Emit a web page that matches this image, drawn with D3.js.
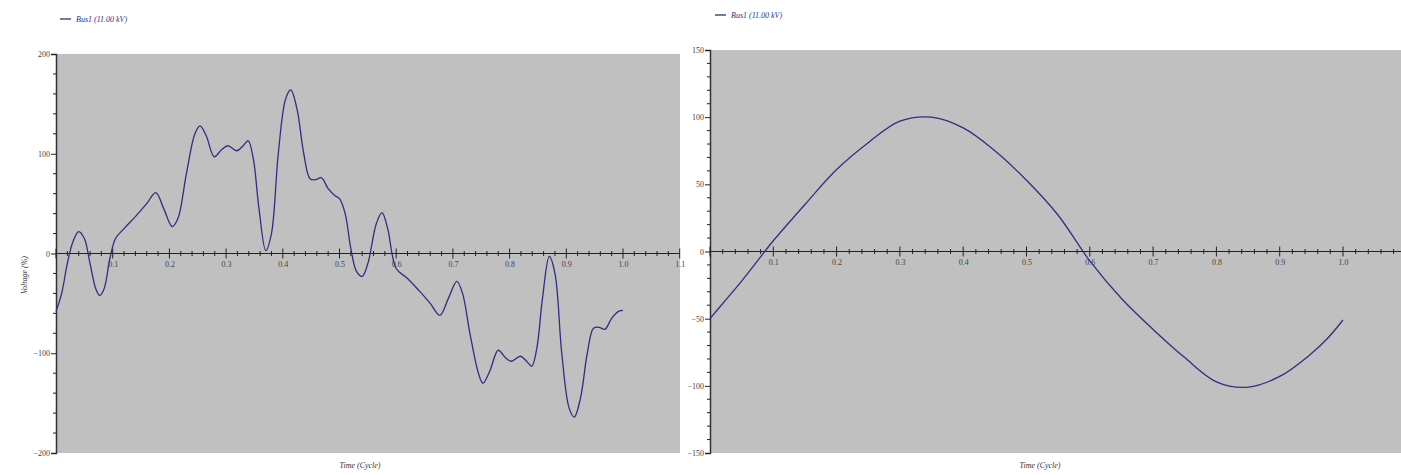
<!DOCTYPE html>
<html><head><meta charset="utf-8">
<script src="https://cdn.jsdelivr.net/npm/d3@7"></script>
<style>body{margin:0;background:#fff}svg{display:block}text{font-family:"Liberation Serif","DejaVu Serif",serif}</style>
</head><body>
<svg id="c" width="1401" height="475"></svg>
<script>
const legendLabel = "Bus1 (11.00 kV)";
const xTitle = "Time (Cycle)";
const yTitle = "Voltage (%)";
const leftYTicks = [200, 100, 0, -100, -200];
const rightYTicks = [150, 100, 50, 0, -50, -100, -150];
const leftXTicks = [0.1,0.2,0.3,0.4,0.5,0.6,0.7,0.8,0.9,1.0,1.1];
const rightXTicks = [0.1,0.2,0.3,0.4,0.5,0.6,0.7,0.8,0.9,1.0];
const leftT = [0,0.01,0.02,0.03,0.04,0.05,0.06,0.07,0.077,0.085,0.095,0.105,0.12,0.14,0.16,0.176,0.19,0.205,0.215,0.23,0.245,0.254,0.265,0.279,0.292,0.303,0.319,0.33,0.339,0.348,0.358,0.37,0.38,0.392,0.405,0.414,0.425,0.437,0.448,0.458,0.468,0.48,0.492,0.5,0.51,0.52,0.53,0.54,0.55,0.565,0.575,0.585,0.6,0.62,0.64,0.66,0.677,0.692,0.707,0.717,0.73,0.745,0.753,0.765,0.78,0.792,0.803,0.819,0.83,0.839,0.848,0.858,0.87,0.88,0.892,0.905,0.914,0.925,0.937,0.948,0.958,0.968,0.98,0.992,1.0];
const leftV = [-58,-40,-10,12,22,15,-10,-35,-42,-35,-5,15,25,37,50,61,45,27,35,80,120,128,118,97,104,108,103,108,113,95,45,3,20,100,155,164,145,100,75,74,76,65,58,55,40,5,-18,-23,-10,30,41,25,-15,-25,-37,-50,-62,-45,-28,-40,-80,-120,-130,-118,-97,-104,-108,-103,-108,-113,-95,-45,-3,-20,-100,-155,-164,-145,-100,-75,-74,-76,-65,-58,-57];
const rightT = [0,0.025,0.05,0.075,0.1,0.15,0.2,0.25,0.3,0.35,0.4,0.45,0.5,0.55,0.6,0.65,0.7,0.75,0.8,0.85,0.9,0.95,0.975,1.0];
const rightV = [-50,-36,-22,-7,8,35,61,81,97,100,92,75,53,27,-7,-35,-58,-79,-97,-101,-93,-76,-65,-51];

const svg = d3.select("#c");
const lineColor = "#2e2e84";

function panel(o){
  const g = svg.append("g");
  const x = d3.scaleLinear().domain([0,1.1]).range([o.x0, o.x0 + o.unit*11]);
  const y = d3.scaleLinear().domain(o.yDomain).range([o.y1, o.y0]);
  g.append("rect").attr("x", o.x0).attr("y", o.y0).attr("width", o.x1 - o.x0).attr("height", o.y1 - o.y0).attr("fill", "#c0c0c0");
  const yAxis = d3.axisLeft(y).tickValues(o.yTicks).tickSize(5).tickFormat(d3.format("d"));
  const ya = g.append("g").attr("transform", `translate(${o.x0},0)`).call(yAxis);
  const minorY = d3.range(o.yDomain[0], o.yDomain[1] + 0.001, o.yMinor).filter(v => !o.yTicks.includes(v));
  ya.selectAll(".minor").data(minorY).enter().append("line").attr("class","minor")
    .attr("x1",-3).attr("x2",0).attr("y1",d=>y(d)).attr("y2",d=>y(d)).attr("stroke","#222");
  ya.select(".domain").attr("stroke","#333").attr("stroke-width",1.5);
  ya.selectAll(".tick line").attr("stroke","#222");
  ya.selectAll(".tick text").attr("font-size", 8).attr("fill","#444").attr("x",-6);
  const xMax = o.xMax;
  const xAxis = d3.axisBottom(x).tickValues(o.xTicks).tickSize(0).tickFormat(d3.format(".1f"));
  const xa = g.append("g").attr("transform", `translate(0,${y(0)})`).call(xAxis);
  xa.select(".domain").remove();
  xa.append("line").attr("x1", o.x0).attr("x2", Math.min(x(xMax), 1401)).attr("stroke","#222").attr("stroke-width",1.2);
  const allX = d3.range(0, 56).map(i => i*0.02).filter(t => x(t) <= 1401 && t <= xMax + 1e-9);
  xa.selectAll(".mt").data(allX).enter().append("line").attr("class","mt")
    .attr("x1", d=>x(d)).attr("x2", d=>x(d))
    .attr("y1", (d,i) => (i%5===0) ? -5 : -2.5).attr("y2", (d,i) => (i%5===0) ? 5 : 2.5)
    .attr("stroke","#222");
  xa.selectAll(".tick text").attr("font-size", 8).attr("fill","#444").attr("y", 8);
  const line = d3.line().x(d=>x(d[0])).y(d=>y(d[1])).curve(d3.curveCatmullRom.alpha(0.5));
  g.append("path").datum(o.t.map((t,i)=>[t,o.v[i]])).attr("d", line)
    .attr("fill","none").attr("stroke", lineColor).attr("stroke-width",1.3);
  g.append("line").attr("x1", o.lx).attr("x2", o.lx+11).attr("y1", o.ly).attr("y2", o.ly).attr("stroke", lineColor).attr("stroke-width",1.3);
  g.append("text").attr("x", o.lx+16).attr("y", o.ly+3).attr("font-size",8).attr("font-style","italic").attr("fill", lineColor).text(legendLabel);
  g.append("text").attr("x", o.tx).attr("y", 468).attr("text-anchor","middle").attr("font-size",8).attr("font-style","italic").attr("fill","#333").text(xTitle);
  return g;
}

panel({x0:56, x1:680, unit:56.7, y0:54, y1:453, yDomain:[-200,200], yTicks:leftYTicks, yMinor:20,
  xTicks:leftXTicks, xMax:1.1, t:leftT, v:leftV, lx:60, ly:19, tx:360});
panel({x0:710, x1:1401, unit:63.3, y0:50, y1:453, yDomain:[-150,150], yTicks:rightYTicks, yMinor:10,
  xTicks:rightXTicks, xMax:1.1, t:rightT, v:rightV, lx:715, ly:15, tx:1040});

svg.append("text").attr("transform","translate(27,275) rotate(-90)").attr("text-anchor","middle")
  .attr("font-size",8).attr("font-style","italic").attr("fill","#333").text(yTitle);
</script>
</body></html>
